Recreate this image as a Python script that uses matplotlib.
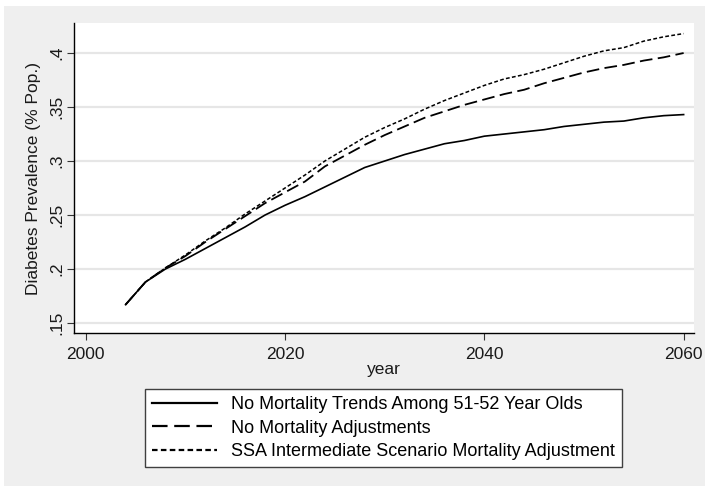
import matplotlib
matplotlib.use("Agg")
import matplotlib.pyplot as plt
from matplotlib.patches import Rectangle
from matplotlib.ticker import FixedLocator, FuncFormatter

plt.rcParams['font.family'] = ['Liberation Sans', 'DejaVu Sans']

# simulated diabetes prevalence, two-year steps
years = list(range(2004, 2061, 2))
no_trend_51_52 = [0.167, 0.188, 0.200, 0.209, 0.219, 0.229, 0.239, 0.250, 0.259, 0.267,
                  0.276, 0.285, 0.294, 0.300, 0.306, 0.311, 0.316, 0.319, 0.323, 0.325,
                  0.327, 0.329, 0.332, 0.334, 0.336, 0.337, 0.340, 0.342, 0.343]
no_adjust = [0.167, 0.188, 0.201, 0.212, 0.225, 0.237, 0.249, 0.261, 0.271, 0.281,
             0.295, 0.305, 0.315, 0.324, 0.332, 0.340, 0.346, 0.352, 0.357, 0.362,
             0.366, 0.372, 0.377, 0.382, 0.386, 0.389, 0.393, 0.396, 0.400]
ssa_intermediate = [0.167, 0.188, 0.201, 0.213, 0.226, 0.238, 0.251, 0.263, 0.275, 0.287,
                    0.300, 0.311, 0.322, 0.331, 0.339, 0.348, 0.356, 0.363, 0.370, 0.376,
                    0.380, 0.385, 0.391, 0.397, 0.402, 0.405, 0.411, 0.415, 0.418]

labels = ["No Mortality Trends Among 51-52 Year Olds",
          "No Mortality Adjustments",
          "SSA Intermediate Scenario Mortality Adjustment"]
x_ticks = [2000, 2020, 2040, 2060]
y_ticks = [0.15, 0.2, 0.25, 0.3, 0.35, 0.4]

fig = plt.figure(figsize=(7.05, 4.86), dpi=100, facecolor='white')
# grey graph region behind everything
fig.patches.append(Rectangle((4 / 705, 0), 1, 1 - 6 / 486, transform=fig.transFigure,
                             facecolor='#efefef', edgecolor='none', zorder=-10))

ax = fig.add_axes([0.105, 0.3142, 0.8794, 0.6385])
ax.set_facecolor('white')

ax.plot(years, no_trend_51_52, color='black', lw=1.2, linestyle='-', label=labels[0])
ax.plot(years, no_adjust, color='black', lw=1.3, linestyle=(0, (7, 3)), label=labels[1])
ax.plot(years, ssa_intermediate, color='black', lw=1.1, linestyle=(0, (2.5, 1.5)), label=labels[2])

ax.set_xlim(1998.83, 2061.04)
ax.set_ylim(0.1405, 0.4278)
ax.xaxis.set_major_locator(FixedLocator(x_ticks))
ax.yaxis.set_major_locator(FixedLocator(y_ticks))
ax.yaxis.set_major_formatter(FuncFormatter(lambda v, p: ('%g' % v).lstrip('0')))

ax.grid(axis='y', color='#e6e6e6', lw=1.6)
ax.set_axisbelow(True)
for side in ['top', 'right']:
    ax.spines[side].set_visible(False)
for side in ['left', 'bottom']:
    ax.spines[side].set_color('black')
    ax.spines[side].set_linewidth(1.0)

ax.tick_params(axis='both', direction='out', length=5, width=0.8, color='#333333',
               labelsize=12.5, labelcolor='#1a1a1a')
ax.tick_params(axis='y', pad=2)
ax.tick_params(axis='x', pad=5)
for t in ax.get_yticklabels():
    t.set_rotation(90)
    t.set_va('center')

ax.set_xlabel('year', fontsize=12.5, color='#1a1a1a', labelpad=0)
ax.set_ylabel('Diabetes Prevalence (% Pop.)', fontsize=12.5, color='#1a1a1a', labelpad=6)

leg = fig.legend(loc='upper center', bbox_to_anchor=(0.544, 0.1996), ncol=1,
                 fontsize=13, frameon=True, fancybox=False, shadow=False, framealpha=1,
                 handlelength=3.6, handletextpad=0.8, borderpad=0.4,
                 labelspacing=0.35, borderaxespad=0)
leg.get_frame().set_edgecolor('#404040')
leg.get_frame().set_linewidth(1.0)
leg.get_frame().set_facecolor('white')
for line in leg.get_lines():
    line.set_linewidth(1.6)

fig.savefig('out.png', dpi=100, facecolor=fig.get_facecolor())
